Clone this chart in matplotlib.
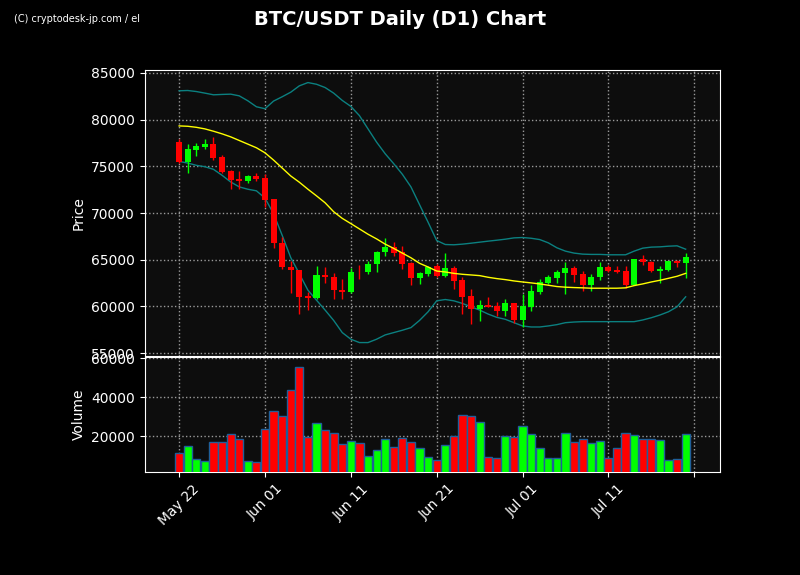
import matplotlib
matplotlib.use("Agg")
import matplotlib.pyplot as plt
import numpy as np
import pandas as pd

dates = pd.date_range("2024-05-22", periods=60, freq="D")

opens = [77660, 75460, 76740, 77020, 77340, 75960, 74470, 73620, 73400, 73940,
         73720, 71490, 66810, 64260, 63900, 61170, 60890, 63400, 63190, 61810,
         61520, 63720, 63650, 64500, 65780, 66380, 65780, 64610, 63010, 63480,
         64290, 63260, 64080, 62800, 61100, 59720, 60140, 60040, 59500, 60350,
         58580, 59960, 61560, 62480, 63050, 63580, 64080, 63440, 62300, 63160,
         64180, 63900, 63760, 62270, 65040, 64790, 63760, 63870, 64860, 64650]
highs = [77940, 77410, 77520, 77940, 78090, 76170, 74610, 74500, 74110, 74330,
         74150, 71500, 67450, 64820, 63950, 61560, 64360, 64220, 63620, 62940,
         64110, 64400, 64820, 65900, 67300, 66950, 66420, 64790, 63690, 64360,
         64500, 65710, 64290, 63160, 61910, 60740, 60960, 60500, 60780, 60350,
         61310, 62270, 62940, 63400, 63940, 64720, 64290, 63760, 63510, 64720,
         64470, 64290, 64330, 65040, 65530, 64900, 64330, 64900, 65000, 65740]
lows = [75390, 74330, 76130, 76880, 75670, 74260, 72620, 72550, 73230, 73400,
        70670, 66240, 64040, 61450, 59220, 59570, 60820, 62520, 60820, 60820,
        61420, 62980, 63470, 63690, 65430, 65350, 64010, 62270, 62410, 63230,
        63120, 63160, 61880, 59150, 58090, 58400, 59900, 58970, 58940, 58260,
        57770, 59540, 61280, 62380, 62480, 61280, 62620, 61630, 61670, 62840,
        63650, 63580, 61990, 62270, 64430, 63650, 62550, 63790, 64220, 63090]
closes = [75460, 76810, 77130, 77340, 75890, 74400, 73510, 73440, 73940, 73620,
          71380, 66740, 64180, 63860, 61030, 60920, 63400, 63120, 61740, 61520,
          63720, 63650, 64540, 65850, 66380, 65670, 64500, 63050, 63620, 64220,
          63260, 64080, 62700, 60990, 59720, 60110, 59930, 59500, 60350, 58580,
          60040, 61630, 62590, 63120, 63690, 64080, 63370, 62270, 63190, 64180,
          63760, 63690, 62270, 65040, 64720, 63790, 63970, 64820, 64650, 65250]
volumes = [11280, 14870, 8200, 7180, 16920, 16920, 21030, 18460, 7180, 6670,
           23760, 32820, 30260, 43590, 55380, 19490, 26670, 23080, 21540, 15900,
           17440, 16410, 9740, 12820, 18460, 14360, 18970, 16920, 13850, 9230,
           7690, 15380, 20000, 30770, 30260, 27180, 9230, 8720, 20000, 19490,
           25130, 21030, 13850, 8720, 8720, 21540, 16920, 18460, 16410, 17440,
           8720, 13850, 21540, 20510, 18460, 18460, 17950, 7690, 8200, 21030]

ma20 = [79330, 79290, 79180, 79010, 78760, 78480, 78160, 77770, 77380, 76990,
        76450, 75670, 74820, 73970, 73300, 72550, 71840, 71100, 70140, 69430,
        68870, 68300, 67730, 67230, 66670, 66210, 65710, 65210, 64620, 64220,
        63790, 63690, 63540, 63440, 63370, 63300, 63120, 62980, 62870, 62730,
        62620, 62520, 62410, 62270, 62130, 62060, 62020, 61990, 61950, 61950,
        61950, 61950, 61990, 62230, 62410, 62620, 62800, 63010, 63230, 63540]
upper = [83090, 83120, 83010, 82840, 82660, 82700, 82730, 82550, 82020, 81380,
         81170, 81990, 82450, 82940, 83620, 83970, 83790, 83440, 82840, 82060,
         81420, 80430, 79010, 77590, 76350, 75280, 74150, 72800, 70900, 69010,
         67060, 66630, 66600, 66670, 66770, 66880, 66990, 67090, 67200, 67340,
         67380, 67300, 67160, 66810, 66280, 65920, 65710, 65600, 65570, 65570,
         65530, 65530, 65530, 65920, 66240, 66350, 66380, 66450, 66490, 66130]
lower = [75530, 75350, 75110, 74960, 74680, 74040, 73330, 72800, 72550, 72380,
         71600, 69920, 67620, 65230, 63500, 61740, 60670, 59610, 58500, 57200,
         56490, 56130, 56130, 56490, 56950, 57200, 57450, 57730, 58500, 59430,
         60600, 60740, 60600, 60320, 59960, 59610, 59180, 58830, 58620, 58260,
         57910, 57800, 57800, 57910, 58050, 58260, 58330, 58370, 58370, 58370,
         58370, 58370, 58370, 58370, 58550, 58790, 59080, 59430, 59960, 61030]

x = np.arange(len(dates))
o = np.array(opens)
c = np.array(closes)
up = c >= o
colors = np.where(up, "#00ff00", "#ff0000")

fig = plt.figure(figsize=(8, 5.75), dpi=100, facecolor="black")
ax = fig.add_axes([0.181, 0.381, 0.719, 0.497])
axv = fig.add_axes([0.181, 0.179, 0.719, 0.2], sharex=ax)

for a in (ax, axv):
    a.set_facecolor("#0d0d0d")
    a.grid(True, color="#9a9a9a", linestyle=":", linewidth=1)
    a.set_axisbelow(True)
    for s in a.spines.values():
        s.set_color("white")
    a.tick_params(colors="white", labelsize=10)

# candles
ax.vlines(x, lows, highs, colors=colors, linewidth=1, zorder=3)
ax.bar(x, np.abs(c - o), bottom=np.minimum(o, c), width=0.7,
       color=colors, zorder=4)
ax.plot(x, upper, color="#0b8080", linewidth=1, zorder=2)
ax.plot(x, lower, color="#0b8080", linewidth=1, zorder=2)
ax.plot(x, ma20, color="yellow", linewidth=1, zorder=5)
ax.set_ylim(54700, 85300)
ax.set_ylabel("Price", color="white", fontsize=10)
plt.setp(ax.get_xticklabels(), visible=False)

axv.bar(x, volumes, width=0.95, color=colors, edgecolor="#1f5f9a",
        linewidth=1, zorder=3)
axv.set_ylim(1700, 60700)
axv.set_ylabel("Volume", color="white", fontsize=10)

ticks = np.arange(0, 61, 10)
labels = [dates[i].strftime("%b %d") if i < len(dates) else "" for i in ticks]
axv.set_xticks(ticks)
axv.set_xticklabels(labels, rotation=45)
axv.set_xlim(-4, 63)

fig.suptitle("BTC/USDT Daily (D1) Chart", color="white", fontsize=14,
             fontweight="bold", y=0.982)
fig.text(0.018, 0.961, "(C) cryptodesk-jp.com / el", color="white",
         fontsize=7, family="Liberation Sans Narrow")

fig.savefig("out.png", dpi=100, facecolor="black")
